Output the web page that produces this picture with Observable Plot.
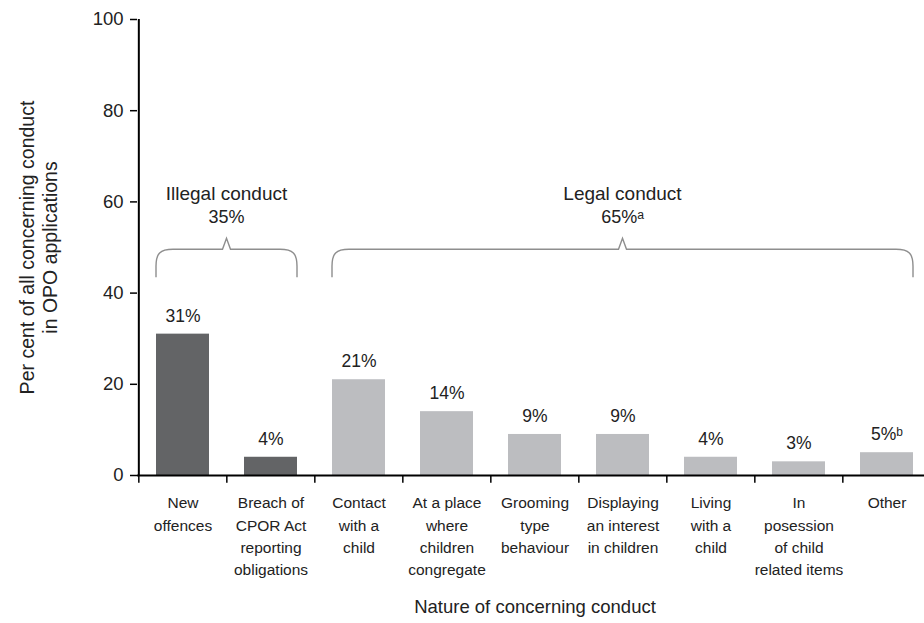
<!DOCTYPE html>
<html>
<head>
<meta charset="utf-8">
<script src="https://cdn.jsdelivr.net/npm/d3@7"></script>
<script src="https://cdn.jsdelivr.net/npm/@observablehq/plot@0.6"></script>
<style>
  body { margin: 0; background: #fff; }
</style>
</head>
<body>
<div id="chart"></div>
<script>
// Nature of concerning conduct cited in OPO applications
const categories = [
  "New offences",
  "Breach of CPOR Act reporting obligations",
  "Contact with a child",
  "At a place where children congregate",
  "Grooming type behaviour",
  "Displaying an interest in children",
  "Living with a child",
  "In posession of child related items",
  "Other"
];
const tickLabels = [
  "New\noffences",
  "Breach of\nCPOR Act\nreporting\nobligations",
  "Contact\nwith a\nchild",
  "At a place\nwhere\nchildren\ncongregate",
  "Grooming\ntype\nbehaviour",
  "Displaying\nan interest\nin children",
  "Living\nwith a\nchild",
  "In\nposession\nof child\nrelated items",
  "Other"
];
const values = [31, 4, 21, 14, 9, 9, 4, 3, 5];
const valueLabels = ["31%", "4%", "21%", "14%", "9%", "9%", "4%", "3%", "5%ᵇ"];
const conductType = ["Illegal", "Illegal", "Legal", "Legal", "Legal", "Legal", "Legal", "Legal", "Legal"];

const groupKeys = ["Illegal", "Legal"];
const groupNames = ["Illegal conduct", "Legal conduct"];
const groupShares = ["35%", "65%ᵃ"];

const yTicks = [0, 20, 40, 60, 80, 100];

const rows = categories.map((c, i) => ({
  category: c,
  tick: tickLabels[i],
  value: values[i],
  label: valueLabels[i],
  type: conductType[i]
}));

const font = "'Liberation Sans', Arial, sans-serif";
const width = 924, height = 623;
const marginLeft = 137, marginRight = -8;
const step = (width - marginRight - marginLeft) / categories.length;
const padInner = 0.4;
const bracketLevel = 49.5;

// Curly group brackets spanning the bars of each conduct type
function brackets(index, scales) {
  const x = scales.x, y = scales.y;
  const bw = step * (1 - padInner);
  const g = d3.create("svg:g");
  groupKeys.forEach((k, i) => {
    const members = categories.filter((c, j) => conductType[j] === k);
    const x0 = x(members[0]);
    const x1 = x(members[members.length - 1]) + bw;
    const xm = (x0 + x1) / 2;
    const yt = y(bracketLevel);
    const yb = yt + 28;
    const r = 17;
    const path = [
      `M${x0},${yb}`,
      `L${x0},${yt + r}`,
      `C${x0},${yt + 4} ${x0 + 4},${yt} ${x0 + r},${yt}`,
      `L${xm - 4},${yt}`,
      `L${xm},${yt - 11}`,
      `L${xm + 4},${yt}`,
      `L${x1 - r},${yt}`,
      `C${x1 - 4},${yt} ${x1},${yt + 4} ${x1},${yt + r}`,
      `L${x1},${yb}`
    ].join("");
    g.append("path")
      .attr("d", path)
      .attr("fill", "none")
      .attr("stroke", "#8e8e8e")
      .attr("stroke-width", 1.4);
    g.append("text")
      .attr("x", xm).attr("y", yt - 49)
      .attr("text-anchor", "middle")
      .attr("font-size", 19)
      .attr("fill", "#222")
      .text(groupNames[i]);
    g.append("text")
      .attr("x", xm).attr("y", yt - 26)
      .attr("text-anchor", "middle")
      .attr("font-size", 18)
      .attr("fill", "#222")
      .text(groupShares[i]);
  });
  return g.node();
}

const chart = Plot.plot({
  width, height,
  marginLeft, marginRight,
  marginTop: 19,
  marginBottom: 148,
  style: { fontFamily: font, fontSize: "17px", color: "#222", background: "#fff" },
  x: { domain: categories, paddingInner: padInner, paddingOuter: 0.2, axis: null },
  y: { domain: [0, 100], axis: null },
  color: { domain: groupKeys, range: ["#636466", "#bcbdc0"] },
  marks: [
    Plot.barY(rows, { x: "category", y: "value", fill: "type" }),
    Plot.text(rows, { x: "category", y: "value", text: "label", dy: -18, fontSize: 17.5, fill: "#222" }),
    // y axis
    Plot.axisY({ ticks: yTicks, tickSize: 7, tickFormat: () => "", label: null, stroke: "#000", strokeWidth: 1.5 }),
    Plot.text(yTicks, { y: (d) => d, text: (d) => String(d), frameAnchor: "left", textAnchor: "end", dx: -14, fontSize: 18.5, fill: "#222" }),
    Plot.ruleX([categories[0]], { dx: -step / 2, y1: 0, y2: 100, stroke: "#000", strokeWidth: 2 }),
    // x axis line and boundary ticks between categories
    Plot.ruleY([0], { stroke: "#000", strokeWidth: 2 }),
    Plot.ruleX(categories, { dx: -step / 2, y1: 0, y2: -1.7, stroke: "#000", strokeWidth: 1.5 }),
    Plot.text(rows, {
      x: "category", text: "tick", frameAnchor: "bottom", lineAnchor: "top",
      dy: 17, lineHeight: 1.44, fontSize: 15.5, fill: "#222"
    }),
    // axis titles
    Plot.text(["Nature of concerning conduct"], { frameAnchor: "bottom", dy: 137, fontSize: 18.5, fill: "#222" }),
    Plot.text(["Per cent of all concerning conduct\nin OPO applications"], {
      frameAnchor: "left", textAnchor: "middle", rotate: -90, dx: -99, lineHeight: 1.17, fontSize: 19.5, fill: "#222"
    }),
    brackets
  ]
});

document.getElementById("chart").append(chart);
</script>
</body>
</html>
